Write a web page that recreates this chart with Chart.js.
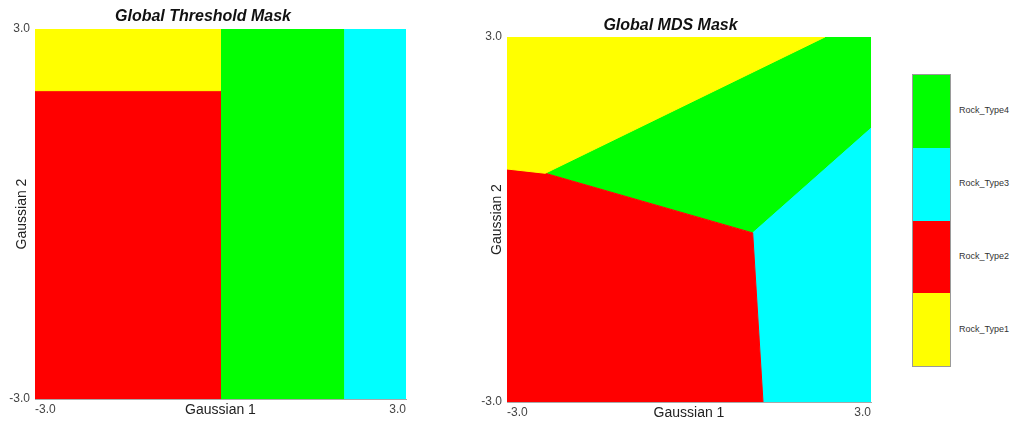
<!DOCTYPE html>
<html>
<head>
<meta charset="utf-8">
<script src="https://cdn.jsdelivr.net/npm/chart.js@4/dist/chart.umd.min.js"></script>
<style>
  body { margin: 0; background: #fff; font-family: 'Liberation Sans', Arial, sans-serif; }
  #wrap { position: relative; width: 1034px; height: 423px; overflow: hidden; }
  .plot { position: absolute; top: 0; width: 420px; height: 423px; }
  #legend { position: absolute; left: 912px; top: 74px; width: 39px; border: 1px solid #9a9a9a; box-sizing: border-box; }
  #legend div { height: 72.75px; }
  .lab { position: absolute; left: 959px; font-size: 9px; color: #333; transform: translateY(-50%); }
</style>
</head>
<body>
<div id="wrap">
  <div class="plot" style="left:0"><canvas id="threshold"></canvas></div>
  <div class="plot" style="left:470px"><canvas id="mds"></canvas></div>
  <div id="legend"></div>
</div>
<script>
// rock types and their colours (legend is drawn top to bottom: Type4 .. Type1)
const rockTypes = ['Rock_Type1', 'Rock_Type2', 'Rock_Type3', 'Rock_Type4'];
const rockColors = ['#ffff00', '#ff0000', '#00ffff', '#00ff00'];
const tickValues = [-3, 3];

// Global Threshold Mask: region outlines in (Gaussian 1, Gaussian 2)
const thrType1 = [[-3, 2], [0, 2], [0, 3], [-3, 3]];
const thrType2 = [[-3, -3], [0, -3], [0, 2], [-3, 2]];
const thrType3 = [[2, -3], [3, -3], [3, 3], [2, 3]];
const thrType4 = [[0, -3], [2, -3], [2, 3], [0, 3]];

// Global MDS Mask: region outlines
const mdsType1 = [[-3, 3], [2.24, 3], [-2.37, 0.76], [-3, 0.83]];
const mdsType2 = [[-3, 0.83], [-2.37, 0.76], [1.05, -0.22], [1.22, -3], [-3, -3]];
const mdsType3 = [[1.05, -0.22], [3, 1.5], [3, -3], [1.22, -3]];
const mdsType4 = [[-2.37, 0.76], [2.24, 3], [3, 3], [3, 1.5], [1.05, -0.22]];

const FONT = "'Liberation Sans', Arial, sans-serif";

function regionSets(regions) {
    return regions.map((pts, i) => ({
        label: rockTypes[i],
        data: pts.map(p => ({ x: p[0], y: p[1] })),
        showLine: true,
        fill: 'shape',
        backgroundColor: rockColors[i],
        borderColor: rockColors[i],
        borderWidth: 1,
        pointRadius: 0,
        tension: 0
    }));
}

function makeMask(id, title, regions, geo) {
    const axis = (label, isX) => ({
        type: 'linear',
        min: -3,
        max: 3,
        grid: { display: false, drawTicks: false },
        border: { display: true, color: '#a8a8a8', width: 1 },
        afterBuildTicks: scale => { scale.ticks = tickValues.map(v => ({ value: v })); },
        afterFit: scale => {
            if (isX) scale.height = geo.xHeight;
            else scale.width = geo.yWidth;
        },
        ticks: {
            padding: isX ? geo.xTickPad : 5,
            align: isX ? 'inner' : 'center',
            color: '#444',
            font: { family: FONT, size: 12 },
            callback: v => v.toFixed(1)
        },
        title: {
            display: true,
            text: label,
            color: '#222',
            font: { family: FONT, size: 14 },
            padding: isX ? { top: 0, bottom: geo.xTitlePad } : { top: geo.yTitlePad, bottom: 0 }
        }
    });

    return new Chart(document.getElementById(id), {
        type: 'scatter',
        data: { datasets: regionSets(regions) },
        options: {
            responsive: true,
            maintainAspectRatio: false,
            animation: false,
            events: [],
            layout: { padding: { left: 0, right: geo.right, top: 0, bottom: 0 } },
            plugins: {
                legend: { display: false },
                tooltip: { enabled: false },
                title: {
                    display: true,
                    text: title,
                    color: '#111',
                    font: { family: FONT, size: 16, weight: 'bold', style: 'italic' },
                    padding: { top: geo.titleTop, bottom: geo.titleBottom }
                }
            },
            scales: {
                x: axis('Gaussian 1', true),
                y: axis('Gaussian 2', false)
            }
        }
    });
}

makeMask('threshold', 'Global Threshold Mask', [thrType1, thrType2, thrType3, thrType4], {
    right: 14, titleTop: 7, titleBottom: 2.8, yWidth: 35, yTitlePad: 13.6,
    xHeight: 24, xTickPad: 3.8, xTitlePad: 4.6
});

makeMask('mds', 'Global MDS Mask', [mdsType1, mdsType2, mdsType3, mdsType4], {
    right: 19, titleTop: 16, titleBottom: 1.8, yWidth: 37, yTitlePad: 18.6,
    xHeight: 21, xTickPad: 3.8, xTitlePad: 1.9
});

// legend: colour column with labels, top entry is Rock_Type4
const legend = document.getElementById('legend');
const wrap = document.getElementById('wrap');
const order = [3, 2, 1, 0];
order.forEach((k, row) => {
    const block = document.createElement('div');
    block.style.background = rockColors[k];
    legend.appendChild(block);
    const lab = document.createElement('div');
    lab.className = 'lab';
    lab.textContent = rockTypes[k];
    lab.style.top = (74 + 72.75 * row + 36.4) + 'px';
    wrap.appendChild(lab);
});
</script>
</body>
</html>
